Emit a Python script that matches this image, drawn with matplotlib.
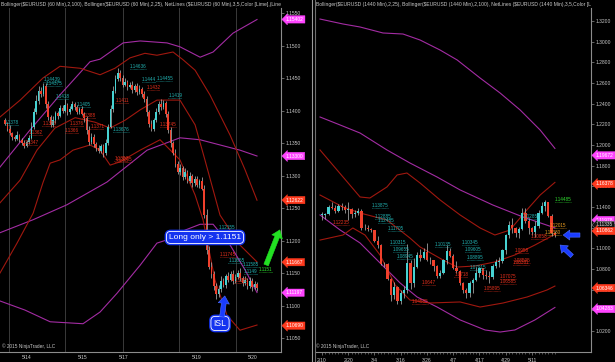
import matplotlib
matplotlib.use('Agg')
import matplotlib.pyplot as plt
from matplotlib.transforms import Bbox, TransformedBbox
import numpy as np

plt.rcParams['font.family'] = ['Liberation Sans', 'DejaVu Sans']

BG = 'black'
AXC = '#8c8c8c'
TXT = '#c8c8c8'
UP = '#46d2d2'
DN = '#f0402c'
WICK = '#bdbdbd'
MAG = '#a32ca3'
RED = '#a0180f'
NET = {'c': '#22b4b4', 'r': '#e8301c', 'o': '#f0a020', 'g': '#30e030'}

# ---------------- 60 min panel (hourly bars, 5/13 - 5/20) ----------------
h_first_open = 1.1385
h_close = [
    1.1380, 1.1372, 1.1365, 1.1360, 1.1356, 1.1362, 1.1355, 1.1350, 1.1346, 1.1352,
    1.1358, 1.1375, 1.1398, 1.1415, 1.1430, 1.1425, 1.1438, 1.1410, 1.1390, 1.1378,
    1.1385, 1.1396, 1.1392, 1.1404, 1.1400, 1.1408, 1.1398, 1.1403, 1.1410, 1.1405,
    1.1398, 1.1402, 1.1395, 1.1388, 1.1370, 1.1352, 1.1360, 1.1348, 1.1342, 1.1338,
    1.1345, 1.1335, 1.1350, 1.1375, 1.1402, 1.1430, 1.1448, 1.1458, 1.1450, 1.1440,
    1.1444, 1.1436, 1.1440, 1.1432, 1.1438, 1.1428, 1.1433, 1.1425, 1.1418, 1.1398,
    1.1380, 1.1372, 1.1385, 1.1398, 1.1410, 1.1405, 1.1412, 1.1395, 1.1370, 1.1350,
    1.1335, 1.1318, 1.1305, 1.1312, 1.1298, 1.1305, 1.1292, 1.1300, 1.1288, 1.1295,
    1.1285, 1.1292, 1.1280, 1.1240, 1.1185, 1.1160, 1.1148, 1.1130, 1.1118, 1.1125,
    1.1138, 1.1132, 1.1145, 1.1140, 1.1148, 1.1138, 1.1144, 1.1150, 1.1142, 1.1135,
    1.1140, 1.1130, 1.1138, 1.1128, 1.1133, 1.1127]
# wicks in pips above / below the body
h_wick_up = [
    4, 3, 5, 2, 3, 6, 2, 3, 4, 3,
    5, 8, 6, 9, 7, 6, 5, 4, 5, 3,
    6, 4, 3, 5, 4, 10, 3, 4, 5, 3,
    4, 3, 5, 3, 4, 6, 5, 4, 3, 5,
    4, 3, 6, 5, 7, 8, 6, 8, 5, 4,
    6, 3, 4, 5, 3, 4, 6, 3, 5, 4,
    3, 5, 4, 6, 5, 7, 4, 3, 5, 4,
    3, 6, 4, 5, 3, 6, 4, 5, 3, 4,
    5, 3, 6, 5, 8, 6, 7, 5, 4, 6,
    8, 5, 4, 7, 5, 6, 4, 5, 7, 4,
    5, 3, 6, 4, 5, 3]
h_wick_dn = [
    3, 4, 2, 5, 3, 2, 4, 3, 4, 2,
    3, 2, 4, 3, 5, 4, 3, 6, 5, 4,
    3, 4, 5, 2, 4, 3, 5, 3, 2, 4,
    3, 4, 2, 5, 6, 5, 3, 4, 5, 4,
    3, 6, 4, 3, 2, 4, 3, 2, 5, 4,
    3, 4, 2, 5, 3, 4, 3, 4, 5, 6,
    5, 4, 3, 2, 3, 4, 3, 5, 4, 6,
    4, 5, 3, 4, 5, 3, 4, 3, 5, 4,
    3, 4, 3, 5, 6, 4, 5, 6, 8, 5,
    4, 3, 5, 4, 3, 5, 4, 3, 4, 5,
    3, 4, 3, 5, 3, 4]
h_date_labels = ['5/14', '5/15', '5/17', '5/19', '5/20']
h_date_pos = [9.2, 32.5, 49.6, 80.0, 103.3]
h_session_breaks = [1.7, 25.0, 49.2, 72.5, 96.3]
h_yticks = [1.1050, 1.1100, 1.1150, 1.1200, 1.1250, 1.1300, 1.1350, 1.1400, 1.1450, 1.1500, 1.1550]

# Bollinger (2,100) and (2,25) band vertices: bar index / price
h_bb100_up_x = [-2.1, 10.4, 22.9, 35.4, 39.6, 49.2, 56.3, 67.5, 72.9, 81.3, 86.7, 95.0, 105.0]
h_bb100_up = [1.1313, 1.1370, 1.1424, 1.1475, 1.1479, 1.1504, 1.1507, 1.1504, 1.1498, 1.1482, 1.1490, 1.1519, 1.1540]
h_bb100_mid_x = [-2.1, 11.7, 25.8, 42.5, 59.2, 72.9, 81.3, 89.6, 97.9, 105.0]
h_bb100_mid = [1.1212, 1.1232, 1.1255, 1.1290, 1.1339, 1.1358, 1.1355, 1.1347, 1.1339, 1.1330]
h_bb100_lo_x = [-2.1, 8.3, 18.8, 32.5, 39.6, 46.7, 56.3, 63.3, 67.5, 75.0, 81.3, 86.7, 93.8, 100.0, 105.0]
h_bb100_lo = [1.1107, 1.1093, 1.1075, 1.1072, 1.1090, 1.1119, 1.1162, 1.1196, 1.1201, 1.1216, 1.1225, 1.1225, 1.1193, 1.1155, 1.1120]
h_bb25_up_x = [-2.1, 6.3, 15.8, 22.9, 31.3, 39.6, 45.8, 52.1, 58.3, 63.3, 70.0, 74.2, 79.2, 85.4, 93.8, 100.0, 105.0]
h_bb25_up = [1.1390, 1.1416, 1.1450, 1.1468, 1.1465, 1.1455, 1.1465, 1.1481, 1.1488, 1.1485, 1.1490, 1.1478, 1.1462, 1.1424, 1.1362, 1.1309, 1.1262]
h_bb25_mid_x = [-2.1, 6.3, 13.3, 20.8, 29.2, 37.5, 43.8, 50.0, 56.3, 63.3, 72.9, 79.2, 83.3, 89.6, 97.9, 105.0]
h_bb25_mid = [1.1258, 1.1293, 1.1339, 1.1373, 1.1389, 1.1382, 1.1373, 1.1385, 1.1401, 1.1416, 1.1416, 1.1378, 1.1324, 1.1239, 1.1193, 1.1167]
h_bb25_lo_x = [-2.1, 5.0, 11.7, 15.8, 18.8, 22.9, 28.3, 35.4, 39.6, 43.8, 47.9, 56.3, 64.6, 72.9, 79.2, 82.5, 87.5, 92.5, 97.9, 105.0]
h_bb25_lo = [1.1150, 1.1196, 1.1242, 1.1289, 1.1319, 1.1324, 1.1339, 1.1347, 1.1339, 1.1316, 1.1321, 1.1339, 1.1355, 1.1324, 1.1270, 1.1232, 1.1139, 1.1085, 1.1062, 1.1070]

h_net_text = ['1.14439', '1.14375', '1.1418', '1.1405', '1.1378', '1.13676', '1.14636', '1.1444',
              '1.14455', '1.1419', '1.12155', '1.11655', '1.11585', '1.1149', '1.1151',
              '1.1347', '1.1362', '1.1376', '1.1376', '1.1366', '1.1388', '1.1371', '1.1411',
              '1.1432', '1.1323', '1.13205', '1.13745', '1.11745', '1.1135']
h_net_x = [16, 17, 21, 30, 0, 45, 52, 57, 63, 68, 89, 93, 99, 99.5, 105.8,
           8, 10, 15.5, 27, 25, 32, 35.5, 46, 59, 45.5, 46, 64.5, 89.6, 95.5]
h_net_kind = ['c'] * 14 + ['g'] + ['r'] * 14

h_tag_text = ['1.15402', '1.13300', '1.12622', '1.11667', '1.11197', '1.10690']
h_tag_kind = ['m', 'm', 'r', 'r', 'm', 'r']

# ---------------- 1440 min panel (daily bars, 2/10 - 5/20) ----------------
d_open = [1.1323, 1.1325, 1.1335, 1.1400, 1.1390, 1.1365, 1.1410, 1.1400, 1.1375, 1.1385,
          1.1330, 1.1340, 1.1365, 1.1195, 1.1195, 1.1185, 1.1175, 1.1075, 1.1030, 1.0845,
          1.0850, 1.0700, 1.0550, 1.0630, 1.0490, 1.0570, 1.0595, 1.0860, 1.0660, 1.0820,
          1.0940, 1.0910, 1.0965, 1.0890, 1.0885, 1.0830, 1.0730, 1.0760, 1.0885, 1.0970,
          1.0925, 1.0810, 1.0780, 1.0660, 1.0600, 1.0565, 1.0665, 1.0690, 1.0760, 1.0805,
          1.0740, 1.0730, 1.0725, 1.0825, 1.0870, 1.0880, 1.0980, 1.1125, 1.1225, 1.1200,
          1.1145, 1.1190, 1.1345, 1.1265, 1.1200, 1.1155, 1.1215, 1.1345, 1.1405, 1.1445,
          1.1315, 1.1145]
d_high = [1.1350, 1.1340, 1.1420, 1.1450, 1.1420, 1.1430, 1.1440, 1.1420, 1.1450, 1.1390,
          1.1370, 1.1390, 1.1380, 1.1240, 1.1230, 1.1200, 1.1180, 1.1115, 1.1045, 1.0870,
          1.0860, 1.0710, 1.0670, 1.0640, 1.0600, 1.0640, 1.1043, 1.0890, 1.0905, 1.0965,
          1.0990, 1.1000, 1.1050, 1.0920, 1.0890, 1.0840, 1.0790, 1.0900, 1.1035, 1.1000,
          1.0950, 1.0880, 1.0790, 1.0670, 1.0620, 1.0680, 1.0710, 1.0820, 1.0820, 1.0810,
          1.0790, 1.0780, 1.0850, 1.0900, 1.0920, 1.0990, 1.1140, 1.1265, 1.1290, 1.1210,
          1.1210, 1.1390, 1.1390, 1.1290, 1.1210, 1.1265, 1.1370, 1.1445, 1.1467, 1.1450,
          1.1330, 1.1165]
d_low = [1.1270, 1.1280, 1.1320, 1.1380, 1.1340, 1.1350, 1.1370, 1.1340, 1.1270, 1.1290,
         1.1300, 1.1320, 1.1180, 1.1175, 1.1170, 1.1160, 1.1060, 1.1000, 1.0840, 1.0820,
         1.0690, 1.0495, 1.0510, 1.0460, 1.0458, 1.0520, 1.0570, 1.0610, 1.0630, 1.0810,
         1.0880, 1.0900, 1.0880, 1.0850, 1.0780, 1.0710, 1.0710, 1.0750, 1.0850, 1.0920,
         1.0800, 1.0760, 1.0650, 1.0570, 1.0520, 1.0530, 1.0570, 1.0680, 1.0720, 1.0700,
         1.0700, 1.0660, 1.0700, 1.0810, 1.0820, 1.0860, 1.0950, 1.1100, 1.1150, 1.1110,
         1.1100, 1.1180, 1.1250, 1.1140, 1.1130, 1.1110, 1.1200, 1.1330, 1.1360, 1.1300,
         1.1120, 1.1110]
d_close = [1.1325, 1.1335, 1.1400, 1.1390, 1.1365, 1.1410, 1.1400, 1.1375, 1.1385, 1.1330,
           1.1340, 1.1365, 1.1195, 1.1195, 1.1185, 1.1175, 1.1075, 1.1030, 1.0845, 1.0850,
           1.0700, 1.0550, 1.0630, 1.0490, 1.0570, 1.0595, 1.0860, 1.0660, 1.0820, 1.0940,
           1.0910, 1.0965, 1.0890, 1.0885, 1.0830, 1.0730, 1.0760, 1.0885, 1.0970, 1.0925,
           1.0810, 1.0780, 1.0660, 1.0600, 1.0565, 1.0665, 1.0690, 1.0760, 1.0805, 1.0740,
           1.0730, 1.0725, 1.0825, 1.0870, 1.0880, 1.0980, 1.1125, 1.1225, 1.1200, 1.1145,
           1.1190, 1.1345, 1.1265, 1.1200, 1.1155, 1.1215, 1.1345, 1.1405, 1.1445, 1.1315,
           1.1145, 1.1133]
d_date_labels = ['2/10', '2/20', '3/4', '3/16', '3/26', '4/7', '4/17', '4/29', '5/11']
d_date_pos = [0, 8, 16, 24, 32, 40, 48, 56, 64]
d_yticks = [1.02, 1.04, 1.06, 1.08, 1.10, 1.12, 1.14, 1.16, 1.18, 1.20, 1.22, 1.24, 1.26, 1.28, 1.30, 1.32]

d_bb100_up_x = [-0.6, 6.4, 11.6, 18.6, 24.7, 29.9, 36.0, 41.2, 48.2, 54.3, 60.4, 66.5, 71.0]
d_bb100_up = [1.3219, 1.3171, 1.3142, 1.3084, 1.3074, 1.3016, 1.2919, 1.2823, 1.2648, 1.2503, 1.2339, 1.2145, 1.1967]
d_bb100_mid_x = [-0.6, 5.5, 11.6, 19.8, 26.8, 35.1, 42.1, 52.1, 61.3, 71.0]
d_bb100_mid = [1.2271, 1.2194, 1.2116, 1.1952, 1.1826, 1.1690, 1.1565, 1.1419, 1.1303, 1.1198]
d_bb100_lo_x = [-0.6, 5.5, 11.6, 16.8, 23.8, 29.0, 35.1, 42.1, 49.7, 54.3, 58.8, 64.9, 71.0]
d_bb100_lo = [1.1323, 1.1178, 1.1052, 1.0887, 1.0665, 1.0529, 1.0432, 1.0307, 1.0210, 1.0190, 1.0210, 1.0307, 1.0428]
d_bb25_up_x = [-0.6, 4.6, 11.6, 14.6, 19.8, 22.9, 25.9, 29.9, 36.0, 42.1, 48.2, 52.7, 57.3, 61.9, 66.5, 71.0]
d_bb25_up = [1.1952, 1.1758, 1.1497, 1.1487, 1.1594, 1.1710, 1.1729, 1.1632, 1.1468, 1.1323, 1.1197, 1.1129, 1.1177, 1.1352, 1.1516, 1.1638]
d_bb25_mid_x = [-0.6, 6.4, 11.6, 19.8, 26.8, 29.9, 36.9, 41.2, 46.6, 52.7, 58.8, 64.9, 71.0]
d_bb25_mid = [1.1516, 1.1400, 1.1342, 1.1274, 1.1100, 1.1013, 1.0887, 1.0819, 1.0829, 1.0868, 1.0936, 1.1032, 1.1136]
d_bb25_lo_x = [-0.6, 6.4, 9.4, 13.1, 17.7, 22.3, 26.8, 32.9, 42.1, 48.2, 55.2, 62.5, 68.6, 71.0]
d_bb25_lo = [1.1080, 1.1129, 1.1197, 1.1129, 1.0935, 1.0645, 1.0500, 1.0471, 1.0481, 1.0432, 1.0471, 1.0529, 1.0597, 1.0635]

d_net_text = ['1.13875', '1.12885', '1.12485', '1.11705', '1.10315', '1.09655', '1.08945', '1.10135',
              '1.10345', '1.09605', '1.08895', '1.07915', '1.1285',
              '1.12235', '1.0647', '1.04585', '1.0958', '1.10858', '1.08595', '1.08381', '1.07075',
              '1.06585', '1.05895', '1.0718',
              '1.12015', '1.11330', '1.14485']
d_net_x = [15.2, 16.2, 17, 20, 20.7, 21.6, 22.9, 34.5, 42.7, 43.6, 44.2, 45, 61.6,
           3.4, 30.5, 27.4, 58.8, 63.7, 58.5, 58.2, 54.3, 54.3, 49.4, 40.3,
           69.5, 68, 71]
d_net_kind = ['c'] * 13 + ['r'] * 11 + ['o', 'o', 'g']

d_tag_text = ['1.19672', '1.16378', '1.11978', '1.11335', '1.10862', '1.06346', '1.04283']
d_tag_at = [1.1900, 1.1623, 1.1274, 1.1226, 1.1168, 1.0616, 1.0413]
d_tag_kind = ['m', 'r', 'm', 'k', 'r', 'r', 'm']

TAG = {'m': ('#ff44ff', 'white'), 'r': ('#ff3a1e', 'white'), 'k': ('#141414', '#e0e0e0')}

W, H = 615, 362
fig = plt.figure(figsize=(W / 100, H / 100), dpi=100, facecolor=BG)
axL = fig.add_axes([0 / W, (H - 352) / H, 281 / W, 344 / H])
axR = fig.add_axes([315 / W, (H - 352) / H, 276 / W, 344 / H])


def style_axis(ax, xlim, ylim):
    ax.set_facecolor(BG)
    ax.set_xlim(*xlim)
    ax.set_ylim(*ylim)
    for side in ['top', 'left']:
        ax.spines[side].set_visible(False)
    for side in ['right', 'bottom']:
        ax.spines[side].set_color(AXC)
        ax.spines[side].set_linewidth(0.8)
    ax.yaxis.tick_right()
    ax.tick_params(axis='y', colors=AXC, labelcolor=TXT, labelsize=3.6, length=2.5, width=0.5, pad=1)
    ax.tick_params(axis='x', colors=AXC, labelcolor=TXT, labelsize=3.6, width=0.5, pad=2)


def draw_candles(ax, o, h, l, c, width, min_body):
    x = np.arange(len(c))
    o, h, l, c = map(np.asarray, (o, h, l, c))
    ax.vlines(x, l, h, color=WICK, lw=0.5, zorder=3)
    body = np.maximum(np.abs(c - o), min_body)
    cols = [UP if ci >= oi else DN for oi, ci in zip(o, c)]
    ax.bar(x, body, bottom=np.minimum(o, c), width=width, color=cols, lw=0, zorder=4)


def draw_net(ax, texts, xs, kinds, char_w):
    for t, x0, k in zip(texts, xs, kinds):
        y = float(t)
        ax.hlines(y, x0, x0 + len(t) * char_w, colors=NET[k], lw=0.5,
                  linestyles=(0, (0.7, 1.0)), zorder=5)
        ax.text(x0, y, t, color=NET[k], fontsize=3.3, ha='left', va='bottom', zorder=6)


def draw_tag(ax, y, text, kind):
    fc, tc = TAG[kind]
    ax.annotate(text, xy=(1, y), xycoords=('axes fraction', 'data'), xytext=(3.5, 0),
                textcoords='offset points', ha='left', va='center', fontsize=3.5, color=tc,
                bbox=dict(boxstyle='larrow,pad=0.25', fc=fc, ec=fc if kind != 'k' else '#a0a0a0', lw=0.3),
                annotation_clip=False, zorder=10)


def header(ax, text):
    t = ax.text(0.004, 1.0116, text, transform=ax.transAxes, fontsize=3.6, color=TXT,
                ha='left', va='center')
    t.set_clip_box(TransformedBbox(Bbox([[0, 0], [1, 1.05]]), ax.transAxes))
    t.set_clip_on(True)


# ---- left panel ----
style_axis(axL, (-2.1, 115.0), (1.10285, 1.15577))
h_open = [h_first_open] + h_close[:-1]
h_high = [max(o, c) + u * 0.0001 for o, c, u in zip(h_open, h_close, h_wick_up)]
h_low = [min(o, c) - d * 0.0001 for o, c, d in zip(h_open, h_close, h_wick_dn)]
for xb in h_session_breaks:
    axL.axvline(xb, color='#3a3a3a', lw=0.7, zorder=1)
for xs, ys, col in [(h_bb100_up_x, h_bb100_up, MAG), (h_bb100_mid_x, h_bb100_mid, MAG),
                    (h_bb100_lo_x, h_bb100_lo, MAG), (h_bb25_up_x, h_bb25_up, RED),
                    (h_bb25_mid_x, h_bb25_mid, RED), (h_bb25_lo_x, h_bb25_lo, RED)]:
    axL.plot(xs, ys, color=col, lw=0.8, zorder=2)
draw_candles(axL, h_open, h_high, h_low, h_close, 0.62, 0.00008)
draw_net(axL, h_net_text, h_net_x, h_net_kind, 0.96)
axL.set_yticks(h_yticks)
axL.set_yticklabels([f'{v:.4f}' for v in h_yticks])
axL.set_xticks(h_date_pos)
axL.set_xticklabels(h_date_labels)
axL.tick_params(axis='x', length=0)
for t, k in zip(h_tag_text, h_tag_kind):
    draw_tag(axL, float(t), t, k)
header(axL, 'Bollinger($EURUSD (60 Min),2,100), Bollinger($EURUSD (60 Min),2,25), '
            'NetLines ($EURUSD (60 Min),3,5,Color [Lime],(Line),1,3)')
axL.text(0.006, 0.008, '\u00a9 2015 NinjaTrader, LLC', transform=axL.transAxes,
         fontsize=3.4, color=TXT, ha='left', va='bottom')

# annotations
for lw, ec in [(2.6, '#1433f0'), (0.6, 'white')]:
    axL.text(0.7295, 0.333, 'Long only > 1.1151', transform=axL.transAxes, fontsize=6.0,
             color='white', ha='center', va='center', zorder=12,
             bbox=dict(boxstyle='round,pad=0.3,rounding_size=0.5', fc='#1433f0', ec=ec, lw=lw))
    axL.text(0.783, 0.083, 'ISL', transform=axL.transAxes, fontsize=6.2,
             color='white', ha='center', va='center', zorder=12,
             bbox=dict(boxstyle='round,pad=0.3,rounding_size=0.5', fc='#1433f0', ec=ec, lw=lw))
axL.annotate('', xy=(0.800, 0.163), xytext=(0.790, 0.102), xycoords='axes fraction',
             arrowprops=dict(arrowstyle='simple,head_length=0.6,head_width=0.9,tail_width=0.38',
                             fc='#1a3cff', ec='#5070ff', lw=0.4, mutation_scale=9,
                             shrinkA=0, shrinkB=0), zorder=12)
axL.annotate('', xy=(0.996, 0.355), xytext=(0.947, 0.253), xycoords='axes fraction',
             arrowprops=dict(arrowstyle='simple,head_length=0.6,head_width=0.9,tail_width=0.38',
                             fc='#22e022', ec='#22e022', lw=0.4, mutation_scale=9,
                             shrinkA=0, shrinkB=0), annotation_clip=False, zorder=12)

# ---- right panel ----
style_axis(axR, (-2.13, 82.0), (0.99968, 1.33258))
for xs, ys, col in [(d_bb100_up_x, d_bb100_up, MAG), (d_bb100_mid_x, d_bb100_mid, MAG),
                    (d_bb100_lo_x, d_bb100_lo, MAG), (d_bb25_up_x, d_bb25_up, RED),
                    (d_bb25_mid_x, d_bb25_mid, RED), (d_bb25_lo_x, d_bb25_lo, RED)]:
    axR.plot(xs, ys, color=col, lw=0.8, zorder=2)
draw_candles(axR, d_open, d_high, d_low, d_close, 0.7, 0.0006)
draw_net(axR, d_net_text, d_net_x, d_net_kind, 0.70)
axR.set_yticks(d_yticks)
axR.set_yticklabels([f'{v:.4f}' for v in d_yticks])
axR.set_xticks(d_date_pos)
axR.set_xticklabels(d_date_labels)
axR.set_xticks(np.arange(len(d_close)), minor=True)
axR.tick_params(axis='x', which='major', length=2.5)
axR.tick_params(axis='x', which='minor', length=1.5, width=0.4, colors=AXC)
for t, y, k in zip(d_tag_text, d_tag_at, d_tag_kind):
    draw_tag(axR, y, t, k)
header(axR, 'Bollinger($EURUSD (1440 Min),2,25), Bollinger($EURUSD (1440 Min),2,100), '
            'NetLines ($EURUSD (1440 Min),3,5,Color [Lime],(Line),1,3)')
axR.text(0.004, 0.008, '\u00a9 2015 NinjaTrader, LLC', transform=axR.transAxes,
         fontsize=3.4, color=TXT, ha='left', va='bottom')
for tip, tail in [((0.899, 0.340), (0.960, 0.340)), ((0.888, 0.311), (0.931, 0.279))]:
    axR.annotate('', xy=tip, xytext=tail, xycoords='axes fraction',
                 arrowprops=dict(arrowstyle='simple,head_length=0.6,head_width=0.9,tail_width=0.38',
                                 fc='#1a3cff', ec='#5070ff', lw=0.4, mutation_scale=8,
                                 shrinkA=0, shrinkB=0), zorder=12)

# panel divider
for xp, col in [(311.5, '#9a9a9a'), (314.5, '#6e6e6e')]:
    fig.add_artist(plt.Line2D([xp / W, xp / W], [0, 1], color=col, lw=0.8))

fig.savefig('out.png', dpi=100, facecolor=BG)
